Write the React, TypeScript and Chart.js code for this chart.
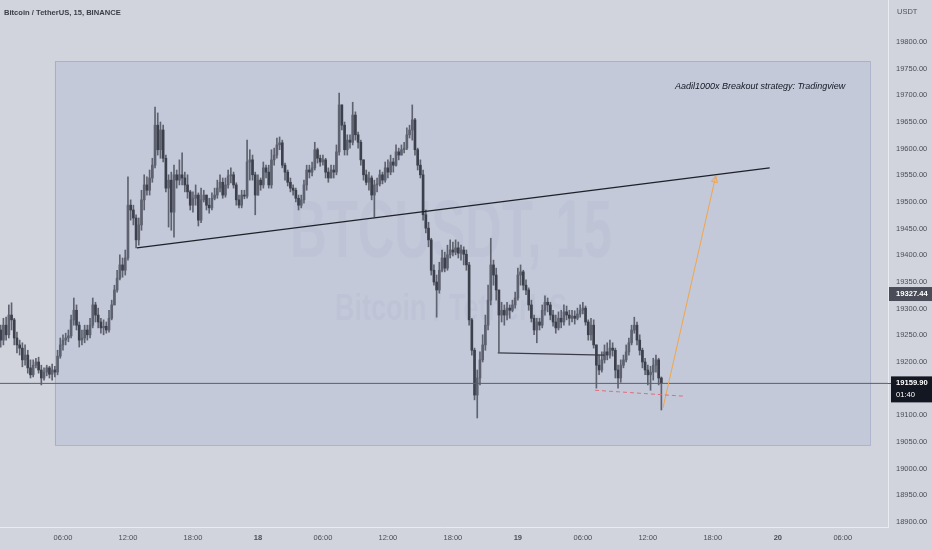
import React, { useEffect, useRef } from 'react';
import { Chart, registerables } from 'chart.js';
Chart.register(...registerables);

const FONT = '"Liberation Sans", Arial, sans-serif';

// 15-minute candles starting 17th 00:00 (open of first candle, then close/high/low per candle)
const firstOpen = 19288;
const closes = [
  19260,19241,19269,19251,19288,19279,19245,19232,19226,19204,
  19213,19189,19176,19194,19200,19185,19170,19181,19189,19177,
  19185,19181,19211,19232,19241,19245,19249,19279,19297,19269,
  19241,19245,19260,19251,19269,19307,19288,19275,19264,19267,
  19260,19282,19307,19335,19357,19382,19372,19395,19494,19485,
  19470,19429,19457,19504,19532,19522,19545,19569,19644,19598,
  19635,19582,19526,19541,19481,19551,19541,19551,19545,19532,
  19519,19494,19507,19513,19466,19504,19513,19494,19489,19507,
  19513,19526,19537,19513,19532,19549,19551,19532,19504,19494,
  19513,19511,19575,19579,19551,19513,19541,19532,19564,19556,
  19532,19579,19588,19607,19611,19569,19556,19537,19526,19522,
  19507,19494,19504,19532,19560,19556,19564,19598,19582,19575,
  19579,19556,19545,19560,19556,19594,19682,19644,19598,19616,
  19612,19663,19626,19612,19579,19551,19537,19545,19513,19532,
  19534,19551,19541,19564,19556,19575,19569,19594,19588,19598,
  19601,19626,19635,19654,19598,19569,19551,19476,19451,19429,
  19372,19350,19335,19372,19395,19376,19401,19410,19406,19414,
  19404,19410,19402,19382,19279,19222,19138,19170,19204,19232,
  19269,19316,19382,19363,19335,19288,19297,19288,19301,19297,
  19307,19320,19363,19369,19344,19335,19307,19282,19260,19275,
  19269,19297,19312,19307,19288,19275,19264,19282,19275,19294,
  19288,19282,19286,19282,19290,19297,19301,19275,19251,19269,
  19232,19194,19185,19204,19219,19213,19226,19222,19185,19170,
  19194,19204,19219,19236,19260,19269,19241,19222,19200,19185,
  19176,19181,19194,19204,19170,19159.9,
];
const highs = [
  19297,19269,19282,19284,19307,19311,19282,19256,19241,19236,
  19232,19222,19204,19204,19207,19209,19194,19189,19194,19192,
  19196,19192,19222,19245,19251,19254,19260,19288,19320,19307,
  19275,19260,19269,19269,19282,19320,19312,19301,19282,19279,
  19275,19297,19316,19344,19372,19401,19395,19410,19547,19504,
  19494,19476,19470,19522,19551,19547,19560,19582,19678,19667,
  19650,19644,19588,19551,19556,19569,19560,19579,19592,19556,
  19551,19522,19519,19532,19517,19526,19522,19513,19507,19517,
  19526,19541,19551,19545,19545,19560,19564,19556,19536,19513,
  19522,19522,19616,19598,19588,19556,19551,19545,19575,19569,
  19569,19598,19601,19620,19622,19616,19573,19560,19545,19532,
  19526,19513,19513,19541,19569,19569,19575,19612,19601,19588,
  19588,19582,19564,19569,19569,19607,19704,19676,19650,19626,
  19626,19687,19669,19631,19616,19579,19560,19556,19549,19541,
  19545,19560,19556,19575,19579,19588,19582,19607,19601,19607,
  19612,19639,19644,19682,19657,19601,19579,19560,19485,19462,
  19432,19382,19363,19387,19410,19406,19419,19429,19425,19429,
  19425,19419,19416,19410,19387,19282,19226,19185,19219,19251,
  19288,19344,19432,19391,19376,19335,19312,19307,19312,19307,
  19316,19331,19376,19382,19372,19354,19339,19316,19288,19282,
  19282,19307,19324,19320,19312,19297,19288,19294,19297,19307,
  19305,19297,19297,19296,19301,19307,19312,19305,19279,19282,
  19279,19232,19213,19219,19232,19236,19241,19236,19226,19194,
  19204,19213,19232,19245,19269,19284,19275,19251,19226,19207,
  19194,19192,19207,19213,19207,19172,
];
const lows = [
  19232,19228,19232,19241,19245,19260,19232,19217,19213,19191,
  19194,19179,19170,19172,19189,19179,19157,19166,19174,19170,
  19166,19172,19176,19207,19222,19232,19238,19245,19269,19260,
  19228,19232,19236,19241,19245,19264,19275,19264,19254,19251,
  19254,19256,19279,19307,19331,19354,19359,19363,19391,19466,
  19457,19414,19419,19447,19485,19513,19513,19537,19564,19588,
  19582,19575,19519,19453,19447,19434,19526,19532,19532,19519,
  19507,19485,19481,19494,19455,19461,19500,19485,19479,19485,
  19504,19507,19519,19507,19509,19526,19536,19526,19494,19489,
  19489,19506,19507,19541,19541,19476,19513,19522,19526,19545,
  19526,19526,19569,19582,19598,19564,19541,19530,19519,19513,
  19500,19485,19489,19498,19522,19545,19549,19560,19573,19567,
  19569,19545,19537,19549,19545,19551,19588,19635,19588,19588,
  19601,19607,19616,19601,19569,19541,19532,19522,19504,19472,
  19519,19530,19534,19537,19545,19551,19556,19567,19579,19588,
  19592,19598,19620,19616,19588,19560,19545,19466,19442,19416,
  19363,19344,19284,19329,19369,19369,19372,19395,19399,19401,
  19395,19391,19382,19372,19269,19213,19129,19095,19157,19200,
  19222,19260,19307,19344,19316,19219,19275,19269,19279,19282,
  19294,19301,19316,19344,19335,19326,19297,19275,19251,19236,
  19260,19264,19288,19294,19279,19267,19254,19260,19264,19269,
  19279,19269,19275,19271,19279,19284,19290,19269,19241,19241,
  19226,19151,19176,19181,19198,19204,19207,19211,19170,19151,
  19162,19189,19200,19213,19232,19254,19232,19213,19189,19176,
  19157,19147,19166,19181,19157,19110,
];

const xTickCandles = [24, 48, 72, 96, 120, 144, 168, 192, 216, 240, 264, 288, 312];
const xTickLabels = ['06:00', '12:00', '18:00', '18', '06:00', '12:00', '18:00', '19', '06:00', '12:00', '18:00', '20', '06:00'];
const dayLabels = ['18', '19', '20'];
const yTickValues = [18900, 18950, 19000, 19050, 19100, 19200, 19250, 19300, 19350, 19400, 19450, 19500, 19550, 19600, 19650, 19700, 19750, 19800];

const xRange = [0.74, 328.7];
const yRange = [18890.6, 19878.75];

const lastPrice = 19159.9;
const countdown = '01:40';
const markedPrice = 19327.44;

const zoneCandles = [21, 322];
const zonePrices = [19764, 19044];
const trendLine = [{ x: 51.3, y: 19414 }, { x: 285, y: 19564 }];
const rangeLowLine = [{ x: 184.6, y: 19217 }, { x: 224.1, y: 19213 }];
const supportDash = [{ x: 220.5, y: 19147 }, { x: 253, y: 19136 }];
const targetLine = [{ x: 245.6, y: 19114 }, { x: 265.1, y: 19549 }];
const noteText = 'Aadil1000x Breakout strategy: Tradingview';
const notePoint = { x: 250, y: 19716 };
const titleText = 'Bitcoin / TetherUS, 15, BINANCE';
const watermarkMain = 'BTCUSDT, 15';
const watermarkSub = 'Bitcoin / TetherUS';
const currencyLabel = 'USDT';

export default function App() {
  const ref = useRef<HTMLCanvasElement>(null);

  useEffect(() => {
    document.body.style.margin = '0';
    const canvas = ref.current;
    if (!canvas) return;
    Chart.defaults.font.family = FONT;

    const opens = closes.map((c, i) => (i === 0 ? firstOpen : closes[i - 1]));
    const isUp = closes.map((c, i) => c >= opens[i]);
    const wickData = closes.map((c, i) => ({
      x: i,
      y: [Math.min(lows[i], opens[i], c), Math.max(highs[i], opens[i], c)],
    }));
    const bodyData = closes.map((c, i) => ({ x: i, y: [opens[i], c] }));

    const overlay = {
      id: 'overlay',
      beforeDraw(chart: any) {
        const { ctx } = chart;
        ctx.save();
        ctx.fillStyle = '#d1d4dc';
        ctx.fillRect(0, 0, chart.width, chart.height);
        ctx.restore();
      },
      beforeDatasetsDraw(chart: any) {
        const { ctx, scales, chartArea } = chart;
        const x = scales.x, y = scales.y;
        ctx.save();
        ctx.beginPath();
        ctx.rect(chartArea.left, chartArea.top, chartArea.right - chartArea.left, chartArea.bottom - chartArea.top);
        ctx.clip();
        const x0 = x.getPixelForValue(zoneCandles[0]);
        const x1 = x.getPixelForValue(zoneCandles[1]);
        const y0 = y.getPixelForValue(zonePrices[0]);
        const y1 = y.getPixelForValue(zonePrices[1]);
        ctx.fillStyle = 'rgba(100,125,200,0.12)';
        ctx.fillRect(x0, y0, x1 - x0, y1 - y0);
        ctx.strokeStyle = 'rgba(130,145,185,0.45)';
        ctx.lineWidth = 1;
        ctx.strokeRect(Math.round(x0) + 0.5, Math.round(y0) + 0.5, Math.round(x1 - x0), Math.round(y1 - y0));

        // watermark
        const cx = (chartArea.left + chartArea.right) / 2 + 7;
        ctx.fillStyle = 'rgba(70,80,120,0.035)';
        ctx.textAlign = 'center';
        ctx.textBaseline = 'alphabetic';
        ctx.save();
        ctx.translate(cx, 257);
        ctx.scale(0.62, 1);
        ctx.font = `bold 82px ${FONT}`;
        ctx.fillText(watermarkMain, 0, 0);
        ctx.restore();
        ctx.save();
        ctx.translate(cx, 320);
        ctx.scale(0.75, 1);
        ctx.font = `bold 36px ${FONT}`;
        ctx.fillText(watermarkSub, 0, 0);
        ctx.restore();
        ctx.restore();
      },
      afterDraw(chart: any) {
        const { ctx, scales, chartArea } = chart;
        const x = scales.x, y = scales.y;
        ctx.save();
        // arrow head on target line
        const p0 = { x: x.getPixelForValue(targetLine[0].x), y: y.getPixelForValue(targetLine[0].y) };
        const p1 = { x: x.getPixelForValue(targetLine[1].x), y: y.getPixelForValue(targetLine[1].y) };
        const ang = Math.atan2(p1.y - p0.y, p1.x - p0.x);
        const L = 7;
        ctx.strokeStyle = '#f2a54a';
        ctx.lineWidth = 1;
        ctx.beginPath();
        ctx.moveTo(p1.x, p1.y);
        ctx.lineTo(p1.x - L * Math.cos(ang - 0.45), p1.y - L * Math.sin(ang - 0.45));
        ctx.lineTo(p1.x - L * Math.cos(ang + 0.45), p1.y - L * Math.sin(ang + 0.45));
        ctx.closePath();
        ctx.stroke();

        // note text
        ctx.fillStyle = '#131722';
        ctx.font = `italic 9px ${FONT}`;
        ctx.textAlign = 'left';
        ctx.textBaseline = 'middle';
        ctx.fillText(noteText, x.getPixelForValue(notePoint.x), y.getPixelForValue(notePoint.y));

        // title
        ctx.fillStyle = '#3b3e48';
        ctx.font = `bold 7.6px ${FONT}`;
        ctx.fillText(titleText, 4, 13);

        // currency label
        ctx.fillStyle = '#50535e';
        ctx.font = `7.5px ${FONT}`;
        ctx.fillText(currencyLabel, chartArea.right + 9, 12);

        // marked price tag
        const ax = chartArea.right + 1;
        const ym = y.getPixelForValue(markedPrice);
        ctx.fillStyle = '#4a4d57';
        ctx.fillRect(ax, ym - 7, chart.width - ax, 14);
        ctx.fillStyle = '#ffffff';
        ctx.font = `bold 7.6px ${FONT}`;
        ctx.fillText(markedPrice.toFixed(2), chartArea.right + 8, ym);

        // last price tag
        const yl = y.getPixelForValue(lastPrice);
        ctx.strokeStyle = '#5a5e6a';
        ctx.beginPath();
        ctx.moveTo(chartArea.right, Math.round(yl) + 0.5);
        ctx.lineTo(ax + 2, Math.round(yl) + 0.5);
        ctx.stroke();
        ctx.fillStyle = '#131722';
        ctx.fillRect(ax + 2, yl - 7, chart.width - ax - 2, 26);
        ctx.fillStyle = '#ffffff';
        ctx.font = `bold 7.6px ${FONT}`;
        ctx.fillText(lastPrice.toFixed(2), chartArea.right + 8, yl);
        ctx.font = `7.6px ${FONT}`;
        ctx.fillText(countdown, chartArea.right + 8, yl + 12);
        ctx.restore();
      },
    };

    const lineBase = { type: 'line' as const, pointRadius: 0, pointHoverRadius: 0, tension: 0, fill: false };

    const chart = new Chart(canvas, {
      type: 'bar',
      data: {
        datasets: [
          { ...lineBase, data: trendLine, borderColor: '#1e2129', borderWidth: 1.3 } as any,
          { ...lineBase, data: rangeLowLine, borderColor: '#3a3d47', borderWidth: 1.2 } as any,
          { ...lineBase, data: supportDash, borderColor: '#e06d7a', borderWidth: 1, borderDash: [4, 3] } as any,
          { ...lineBase, data: targetLine, borderColor: '#f2a54a', borderWidth: 1 } as any,
          {
            ...lineBase,
            data: [{ x: xRange[0], y: lastPrice }, { x: xRange[1], y: lastPrice }],
            borderColor: '#5a5e6a',
            borderWidth: 1,
          } as any,
          {
            type: 'bar',
            data: bodyData as any,
            barThickness: 2,
            minBarLength: 1,
            grouped: false,
            backgroundColor: isUp.map((u) => (u ? '#5e6270' : '#3c404c')),
            borderWidth: 0,
          } as any,
          {
            type: 'bar',
            data: wickData as any,
            barThickness: 1,
            grouped: false,
            backgroundColor: '#5f636f',
            borderWidth: 0,
          } as any,
        ],
      },
      options: {
        animation: false,
        responsive: false,
        devicePixelRatio: 1,
        layout: { padding: 0 },
        plugins: { legend: { display: false }, tooltip: { enabled: false } },
        scales: {
          x: {
            type: 'linear',
            position: 'bottom',
            min: xRange[0],
            max: xRange[1],
            offset: false,
            grid: { display: false, drawTicks: false },
            border: { display: true, color: '#e9ebf0', width: 1 },
            afterBuildTicks: (scale: any) => {
              scale.ticks = xTickCandles.map((v) => ({ value: v }));
            },
            afterFit: (scale: any) => {
              scale.height = 23;
              scale.paddingLeft = 0;
              scale.paddingRight = 0;
            },
            ticks: {
              autoSkip: false,
              maxRotation: 0,
              padding: 6,
              color: '#4a4d57',
              font: (ctx: any) => {
                const idx = xTickCandles.indexOf(ctx.tick ? ctx.tick.value : -1);
                const lab = idx >= 0 ? xTickLabels[idx] : '';
                return { size: 7.5, family: FONT, weight: dayLabels.includes(lab) ? 'bold' : 'normal' } as any;
              },
              callback: (v: any) => {
                const idx = xTickCandles.indexOf(Number(v));
                return idx >= 0 ? xTickLabels[idx] : '';
              },
            },
          } as any,
          y: {
            type: 'linear',
            position: 'right',
            min: yRange[0],
            max: yRange[1],
            grid: { display: false, drawTicks: false },
            border: { display: true, color: '#e9ebf0', width: 1 },
            afterBuildTicks: (scale: any) => {
              scale.ticks = yTickValues.map((v) => ({ value: v }));
            },
            afterFit: (scale: any) => {
              scale.width = 44;
              scale.paddingTop = 0;
              scale.paddingBottom = 0;
            },
            ticks: {
              padding: 8,
              color: '#4a4d57',
              font: { size: 7.5, family: FONT },
              callback: (v: any) => Number(v).toFixed(2),
            },
          } as any,
        },
      },
      plugins: [overlay],
    });

    return () => chart.destroy();
  }, []);

  return (
    <div style={{ position: 'fixed', left: 0, top: 0, width: 932, height: 550 }}>
      <canvas ref={ref} width={932} height={550} style={{ display: 'block' }} />
    </div>
  );
}
